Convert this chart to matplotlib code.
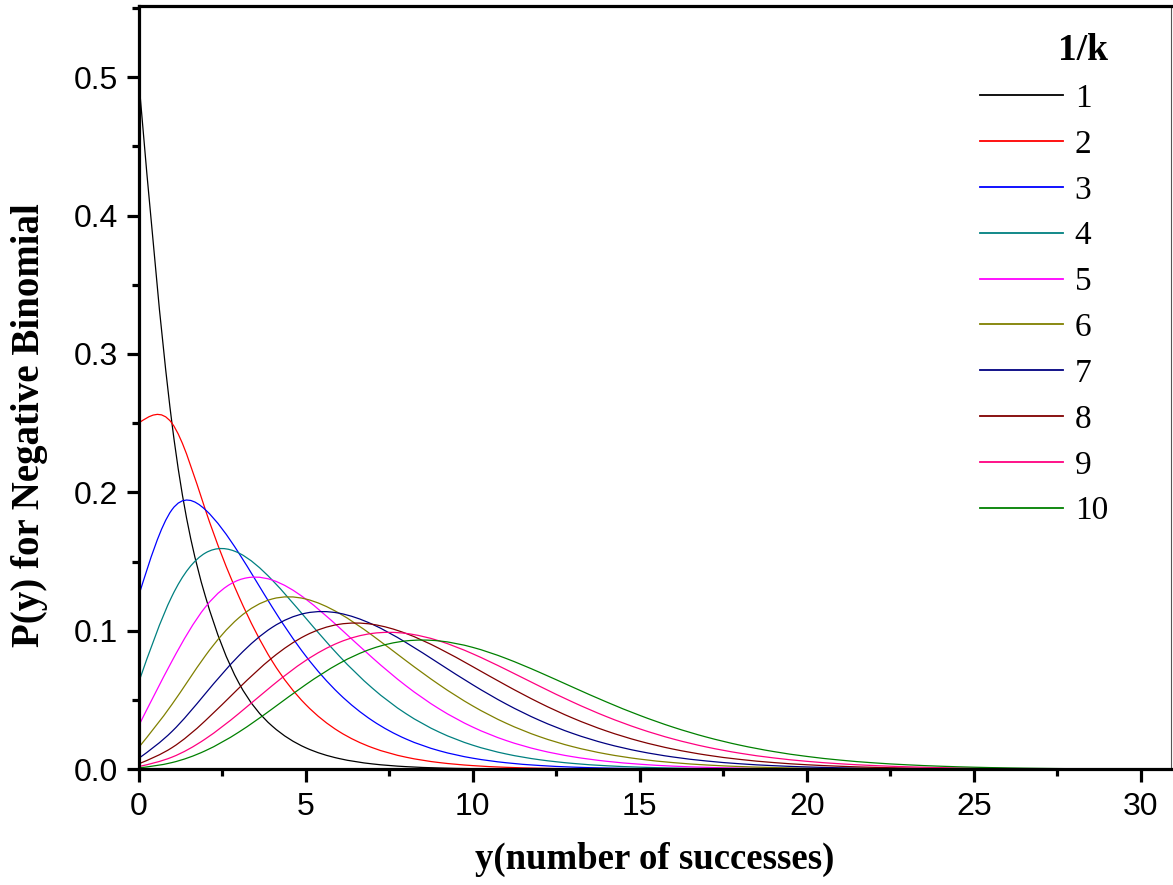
import numpy as np
import matplotlib
matplotlib.use("Agg")
import matplotlib.pyplot as plt
from matplotlib.path import Path
from matplotlib.patches import PathPatch
from matplotlib.lines import Line2D
from matplotlib.ticker import MultipleLocator, FuncFormatter, FormatStrFormatter

# y = number of successes
y_values = list(range(0, 31))

series_labels = ["1", "2", "3", "4", "5", "6", "7", "8", "9", "10"]
legend_title = "1/k"

p_k1 = [0.5, 0.25, 0.125, 0.0625, 0.03125, 0.01563, 0.00781, 0.00391, 0.00195, 0.00098,
        0.00049, 0.00024, 0.00012, 0.00006, 0.00003, 0.00002, 0.00001, 0, 0, 0,
        0, 0, 0, 0, 0, 0, 0, 0, 0, 0, 0]
p_k2 = [0.25, 0.25, 0.1875, 0.125, 0.07813, 0.04688, 0.02734, 0.01563, 0.00879, 0.00488,
        0.00269, 0.00146, 0.00079, 0.00043, 0.00023, 0.00012, 0.00006, 0.00003, 0.00002, 0.00001,
        0.00001, 0, 0, 0, 0, 0, 0, 0, 0, 0, 0]
p_k3 = [0.125, 0.1875, 0.1875, 0.15625, 0.11719, 0.08203, 0.05469, 0.03516, 0.02197, 0.01343,
        0.00806, 0.00476, 0.00278, 0.0016, 0.00092, 0.00052, 0.00029, 0.00016, 0.00009, 0.00005,
        0.00003, 0.00002, 0.00001, 0, 0, 0, 0, 0, 0, 0, 0]
p_k4 = [0.0625, 0.125, 0.15625, 0.15625, 0.13672, 0.10938, 0.08203, 0.05859, 0.04028, 0.02686,
        0.01746, 0.01111, 0.00694, 0.00427, 0.00259, 0.00156, 0.00092, 0.00054, 0.00032, 0.00018,
        0.00011, 0.00006, 0.00003, 0.00002, 0.00001, 0.00001, 0, 0, 0, 0, 0]
p_k5 = [0.03125, 0.07813, 0.11719, 0.13672, 0.13672, 0.12305, 0.10254, 0.08057, 0.06042, 0.04364,
        0.03055, 0.02083, 0.01389, 0.00908, 0.00584, 0.0037, 0.00231, 0.00143, 0.00087, 0.00053,
        0.00032, 0.00019, 0.00011, 0.00007, 0.00004, 0.00002, 0.00001, 0.00001, 0, 0, 0]
p_k6 = [0.01563, 0.04688, 0.08203, 0.10938, 0.12305, 0.12305, 0.11279, 0.09668, 0.07855, 0.0611,
        0.04582, 0.03333, 0.02361, 0.01634, 0.01109, 0.00739, 0.00485, 0.00314, 0.00201, 0.00127,
        0.00079, 0.00049, 0.0003, 0.00018, 0.00011, 0.00007, 0.00004, 0.00002, 0.00001, 0.00001, 0]
p_k7 = [0.00781, 0.02734, 0.05469, 0.08203, 0.10254, 0.11279, 0.11279, 0.10474, 0.09164, 0.07637,
        0.0611, 0.04721, 0.03541, 0.02588, 0.01848, 0.01294, 0.0089, 0.00602, 0.00401, 0.00264,
        0.00172, 0.0011, 0.0007, 0.00044, 0.00028, 0.00017, 0.00011, 0.00006, 0.00004, 0.00002, 0.00001]
p_k8 = [0.00391, 0.01563, 0.03516, 0.05859, 0.08057, 0.09668, 0.10474, 0.10474, 0.09819, 0.08728,
        0.07419, 0.0607, 0.04805, 0.03696, 0.02772, 0.02033, 0.01461, 0.01031, 0.00716, 0.0049,
        0.00331, 0.00221, 0.00145, 0.00095, 0.00061, 0.00039, 0.00025, 0.00016, 0.0001, 0.00006, 0.00004]
p_k9 = [0.00195, 0.00879, 0.02197, 0.04028, 0.06042, 0.07855, 0.09164, 0.09819, 0.09819, 0.09274,
        0.08346, 0.07208, 0.06007, 0.04852, 0.03812, 0.02923, 0.02192, 0.01612, 0.01164, 0.00827,
        0.00579, 0.004, 0.00273, 0.00184, 0.00122, 0.00081, 0.00053, 0.00034, 0.00022, 0.00014, 0.00009]
p_k10 = [0.00098, 0.00488, 0.01343, 0.02686, 0.04364, 0.0611, 0.07637, 0.08728, 0.09274, 0.09274,
         0.0881, 0.08009, 0.07008, 0.0593, 0.04871, 0.03897, 0.03044, 0.02328, 0.01746, 0.01287,
         0.00933, 0.00666, 0.00469, 0.00327, 0.00225, 0.00153, 0.00103, 0.00069, 0.00045, 0.0003, 0.00019]

series = [p_k1, p_k2, p_k3, p_k4, p_k5, p_k6, p_k7, p_k8, p_k9, p_k10]
colors = ["#000000", "#FF0000", "#0000FF", "#008080", "#FF00FF",
          "#808000", "#000080", "#800000", "#FF0080", "#008000"]


def spline_path(xs, ys):
    """Natural cubic spline connector expressed as cubic Bezier segments."""
    x = np.asarray(xs, float)
    y = np.asarray(ys, float)
    n = len(x)
    h = np.diff(x)
    A = np.zeros((n, n))
    b = np.zeros(n)
    A[0, 0] = 1.0
    A[-1, -1] = 1.0
    for i in range(1, n - 1):
        A[i, i - 1] = h[i - 1]
        A[i, i] = 2 * (h[i - 1] + h[i])
        A[i, i + 1] = h[i]
        b[i] = 6 * ((y[i + 1] - y[i]) / h[i] - (y[i] - y[i - 1]) / h[i - 1])
    M = np.linalg.solve(A, b)
    verts = [(x[0], y[0])]
    codes = [Path.MOVETO]
    for i in range(n - 1):
        hi = h[i]
        s = (y[i + 1] - y[i]) / hi
        d0 = s - hi * (2 * M[i] + M[i + 1]) / 6
        d1 = s + hi * (M[i] + 2 * M[i + 1]) / 6
        verts += [(x[i] + hi / 3, y[i] + hi * d0 / 3),
                  (x[i + 1] - hi / 3, y[i + 1] - hi * d1 / 3),
                  (x[i + 1], y[i + 1])]
        codes += [Path.CURVE4] * 3
    return Path(verts, codes)


fig = plt.figure(figsize=(11.73, 8.85), dpi=100)
ax = fig.add_axes([0.1181, 0.1307, 0.8802, 0.862])

handles = []
for vals, col, lab in zip(series, colors, series_labels):
    patch = PathPatch(spline_path(y_values, vals), facecolor="none",
                      edgecolor=col, lw=0.9, transform=ax.transData)
    ax.add_patch(patch)
    handles.append(Line2D([], [], color=col, lw=1.3, label=lab))

ax.set_xlim(0, 30.9)
ax.set_ylim(0, 0.551)

ax.xaxis.set_major_locator(MultipleLocator(5))
ax.xaxis.set_minor_locator(MultipleLocator(2.5))
ax.yaxis.set_major_locator(MultipleLocator(0.1))
ax.yaxis.set_minor_locator(MultipleLocator(0.05))
ax.xaxis.set_major_formatter(FuncFormatter(lambda v, p: f"{v:g}"))
ax.yaxis.set_major_formatter(FormatStrFormatter("%.1f"))

for side in ["left", "bottom", "top"]:
    ax.spines[side].set_linewidth(2.3)
ax.spines["right"].set_linewidth(0.8)
ax.spines["right"].set_color("#555555")

ax.tick_params(axis="both", which="major", direction="out", length=9, width=2.3,
               labelsize=23)
ax.tick_params(axis="x", which="major", pad=7)
ax.tick_params(axis="y", which="major", pad=6)
ax.tick_params(axis="both", which="minor", direction="out", length=5, width=2.3)
ax.tick_params(top=False, right=False, which="both")
for lbl in ax.get_xticklabels() + ax.get_yticklabels():
    lbl.set_fontfamily("Liberation Sans")

ax.set_xlabel("y(number of successes)", fontfamily="Liberation Serif",
              fontweight="bold", fontsize=26.5)
ax.set_ylabel("P(y) for Negative Binomial", fontfamily="Liberation Serif",
              fontweight="bold", fontsize=28)
ax.yaxis.set_label_coords(-0.088, 0.451)
ax.xaxis.set_label_coords(0.5, -0.095)

leg = ax.legend(handles=handles, title=legend_title, loc="upper right",
                bbox_to_anchor=(0.939, 0.965), frameon=False,
                prop={"family": "Liberation Serif", "size": 24},
                title_fontproperties={"family": "Liberation Serif", "weight": "bold", "size": 27},
                handlelength=2.5, handletextpad=0.35, labelspacing=0.46,
                borderpad=0, borderaxespad=0, alignment="right")

fig.savefig("out.png", dpi=100)
